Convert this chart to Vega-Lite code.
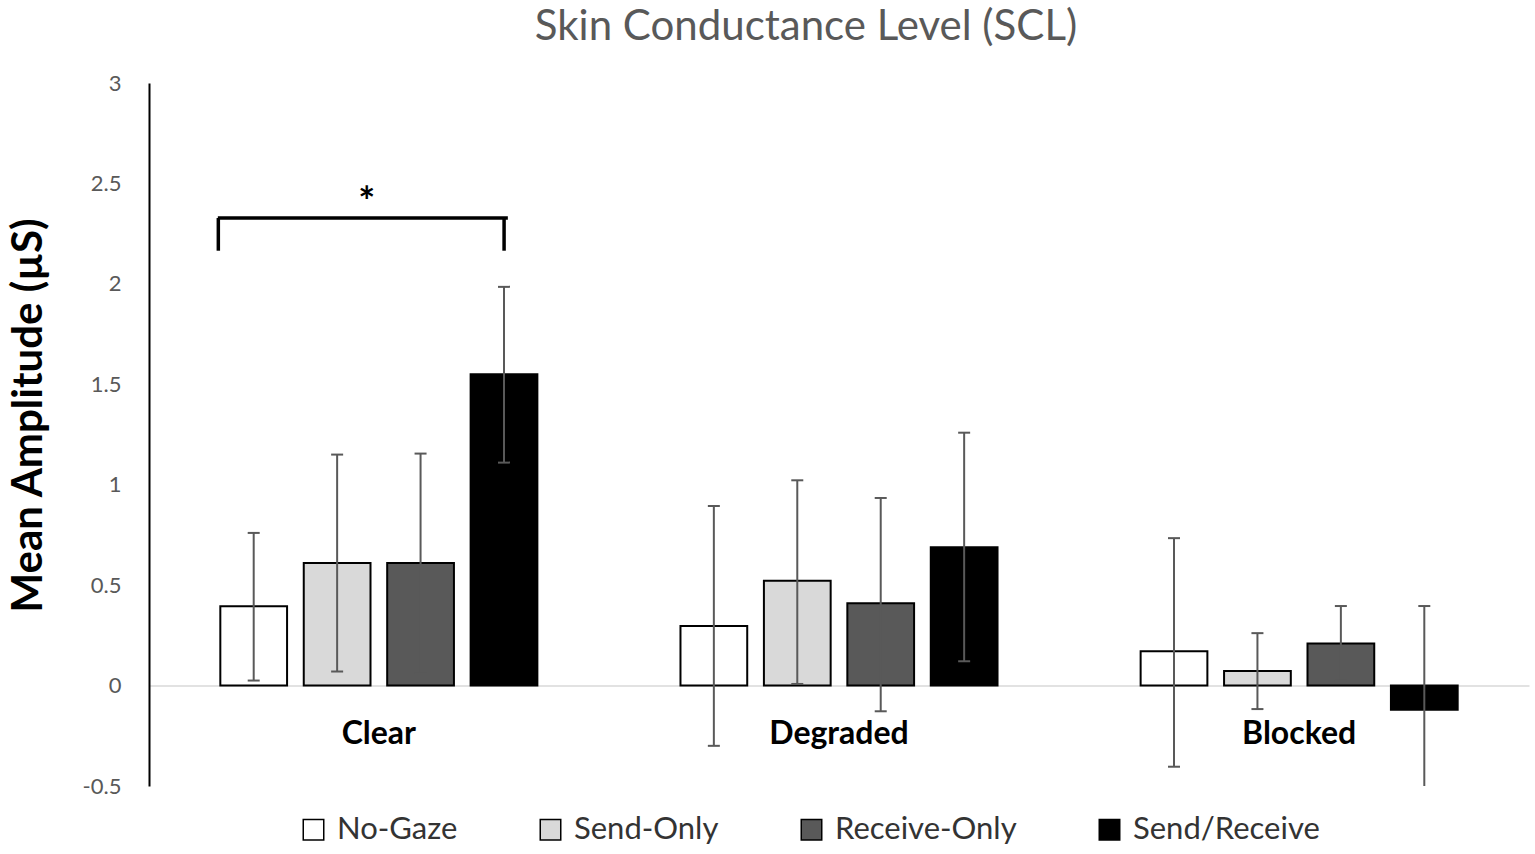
{
  "$schema": "https://vega.github.io/schema/vega-lite/v6.json",
  "autosize": "none",
  "padding": {"left": 149, "top": 83, "right": 6, "bottom": 68},
  "width": 1380,
  "height": 703,
  "title": {
    "text": "Skin Conductance Level (SCL)",
    "font": "Lato",
    "fontSize": 42,
    "fontWeight": "normal",
    "color": "#595959",
    "anchor": "middle",
    "dx": -33,
    "offset": 23
  },
  "datasets": {
    "scl": [
      {"group": "Clear", "series": "No-Gaze", "mean": 0.395, "lo": 0.025, "hi": 0.76},
      {"group": "Clear", "series": "Send-Only", "mean": 0.61, "lo": 0.07, "hi": 1.15},
      {"group": "Clear", "series": "Receive-Only", "mean": 0.61, "lo": 0.06, "hi": 1.155},
      {"group": "Clear", "series": "Send/Receive", "mean": 1.55, "lo": 1.11, "hi": 1.985},
      {"group": "Degraded", "series": "No-Gaze", "mean": 0.297, "lo": -0.3, "hi": 0.894},
      {"group": "Degraded", "series": "Send-Only", "mean": 0.522, "lo": 0.008, "hi": 1.022},
      {"group": "Degraded", "series": "Receive-Only", "mean": 0.41, "lo": -0.128, "hi": 0.934},
      {"group": "Degraded", "series": "Send/Receive", "mean": 0.689, "lo": 0.121, "hi": 1.259},
      {"group": "Blocked", "series": "No-Gaze", "mean": 0.171, "lo": -0.404, "hi": 0.734},
      {"group": "Blocked", "series": "Send-Only", "mean": 0.072, "lo": -0.117, "hi": 0.261},
      {"group": "Blocked", "series": "Receive-Only", "mean": 0.21, "lo": 0.025, "hi": 0.396},
      {"group": "Blocked", "series": "Send/Receive", "mean": -0.12, "lo": -0.63, "hi": 0.396}
    ],
    "bracket": [
      {"group": "Clear", "lo": 2.165, "hi": 2.328}
    ],
    "star": [
      {"group": "Clear", "y": 2.34, "label": "*"}
    ]
  },
  "encoding": {
    "x": {
      "field": "group",
      "type": "nominal",
      "sort": ["Clear", "Degraded", "Blocked"],
      "scale": {"paddingInner": 0.311, "paddingOuter": 0.155},
      "axis": {
        "title": null,
        "orient": "bottom",
        "offset": -100.4,
        "labelAngle": 0,
        "labelFont": "Lato",
        "labelFontSize": 32,
        "labelFontWeight": "bold",
        "labelColor": "black",
        "labelPadding": 33,
        "ticks": false,
        "tickSize": 0,
        "domainColor": "#d9d9d9",
        "domainWidth": 1.5,
        "grid": false
      }
    },
    "xOffset": {
      "field": "series",
      "type": "nominal",
      "sort": ["No-Gaze", "Send-Only", "Receive-Only", "Send/Receive"],
      "scale": {"paddingInner": 0.2, "paddingOuter": 0}
    }
  },
  "layer": [
    {
      "data": {"name": "scl"},
      "mark": {"type": "bar", "stroke": "black", "strokeWidth": 2},
      "encoding": {
        "y": {
          "field": "mean",
          "type": "quantitative",
          "scale": {"domain": [-0.5, 3], "nice": false},
          "axis": {
            "title": "Mean Amplitude (µS)",
            "titleFont": "Lato",
            "titleFontSize": 42,
            "titleFontWeight": "bold",
            "titleColor": "black",
            "titleAngle": -90,
            "titleAlign": "center",
            "titleBaseline": "middle",
            "titleX": -121,
            "titleY": 332,
            "values": [-0.5, 0, 0.5, 1, 1.5, 2, 2.5, 3],
            "labelExpr": "'' + datum.value",
            "labelFont": "Lato",
            "labelFontSize": 22,
            "labelColor": "#595959",
            "labelPadding": 28,
            "ticks": false,
            "tickSize": 0,
            "domainColor": "black",
            "domainWidth": 2,
            "grid": false
          }
        },
        "color": {
          "field": "series",
          "type": "nominal",
          "scale": {
            "domain": ["No-Gaze", "Send-Only", "Receive-Only", "Send/Receive"],
            "range": ["#ffffff", "#d9d9d9", "#595959", "#000000"]
          },
          "legend": {
            "title": null,
            "orient": "none",
            "legendX": 149,
            "legendY": 731,
            "direction": "horizontal",
            "columns": 4,
            "columnPadding": 77,
            "padding": 0,
            "symbolType": "square",
            "symbolSize": 420,
            "symbolStrokeColor": "black",
            "symbolStrokeWidth": 1.5,
            "labelFont": "Lato",
            "labelFontSize": 31,
            "labelColor": "#333333",
            "labelOffset": 8,
            "labelLimit": 400
          }
        }
      }
    },
    {
      "data": {"name": "scl"},
      "mark": {"type": "rule", "color": "#595959", "strokeWidth": 2, "clip": true},
      "encoding": {
        "y": {"field": "lo", "type": "quantitative"},
        "y2": {"field": "hi"}
      }
    },
    {
      "data": {"name": "scl"},
      "mark": {"type": "tick", "color": "#595959", "size": 12, "thickness": 2, "opacity": 1, "clip": true},
      "encoding": {
        "y": {"field": "lo", "type": "quantitative"}
      }
    },
    {
      "data": {"name": "scl"},
      "mark": {"type": "tick", "color": "#595959", "size": 12, "thickness": 2, "opacity": 1, "clip": true},
      "encoding": {
        "y": {"field": "hi", "type": "quantitative"}
      }
    },
    {
      "data": {"name": "bracket"},
      "mark": {"type": "rule", "color": "black", "strokeWidth": 3.5, "xOffset": -2},
      "encoding": {
        "x": {"field": "group", "type": "nominal", "bandPosition": 0},
        "xOffset": null,
        "y": {"field": "lo", "type": "quantitative"},
        "y2": {"field": "hi"}
      }
    },
    {
      "data": {"name": "bracket"},
      "mark": {"type": "rule", "color": "black", "strokeWidth": 3.5},
      "encoding": {
        "x": {"field": "group", "type": "nominal", "bandPosition": 0.895},
        "xOffset": null,
        "y": {"field": "lo", "type": "quantitative"},
        "y2": {"field": "hi"}
      }
    },
    {
      "data": {"name": "bracket"},
      "mark": {"type": "tick", "color": "black", "opacity": 1, "size": 290, "thickness": 3.5, "orient": "horizontal", "xOffset": -16},
      "encoding": {
        "xOffset": null,
        "y": {"field": "hi", "type": "quantitative"}
      }
    },
    {
      "data": {"name": "star"},
      "mark": {"type": "text", "font": "Lato", "fontSize": 40, "fontWeight": "bold", "color": "black", "dx": -12, "baseline": "alphabetic"},
      "encoding": {
        "xOffset": null,
        "y": {"field": "y", "type": "quantitative"},
        "text": {"field": "label"}
      }
    }
  ],
  "config": {
    "view": {"stroke": null},
    "font": "Lato"
  }
}
